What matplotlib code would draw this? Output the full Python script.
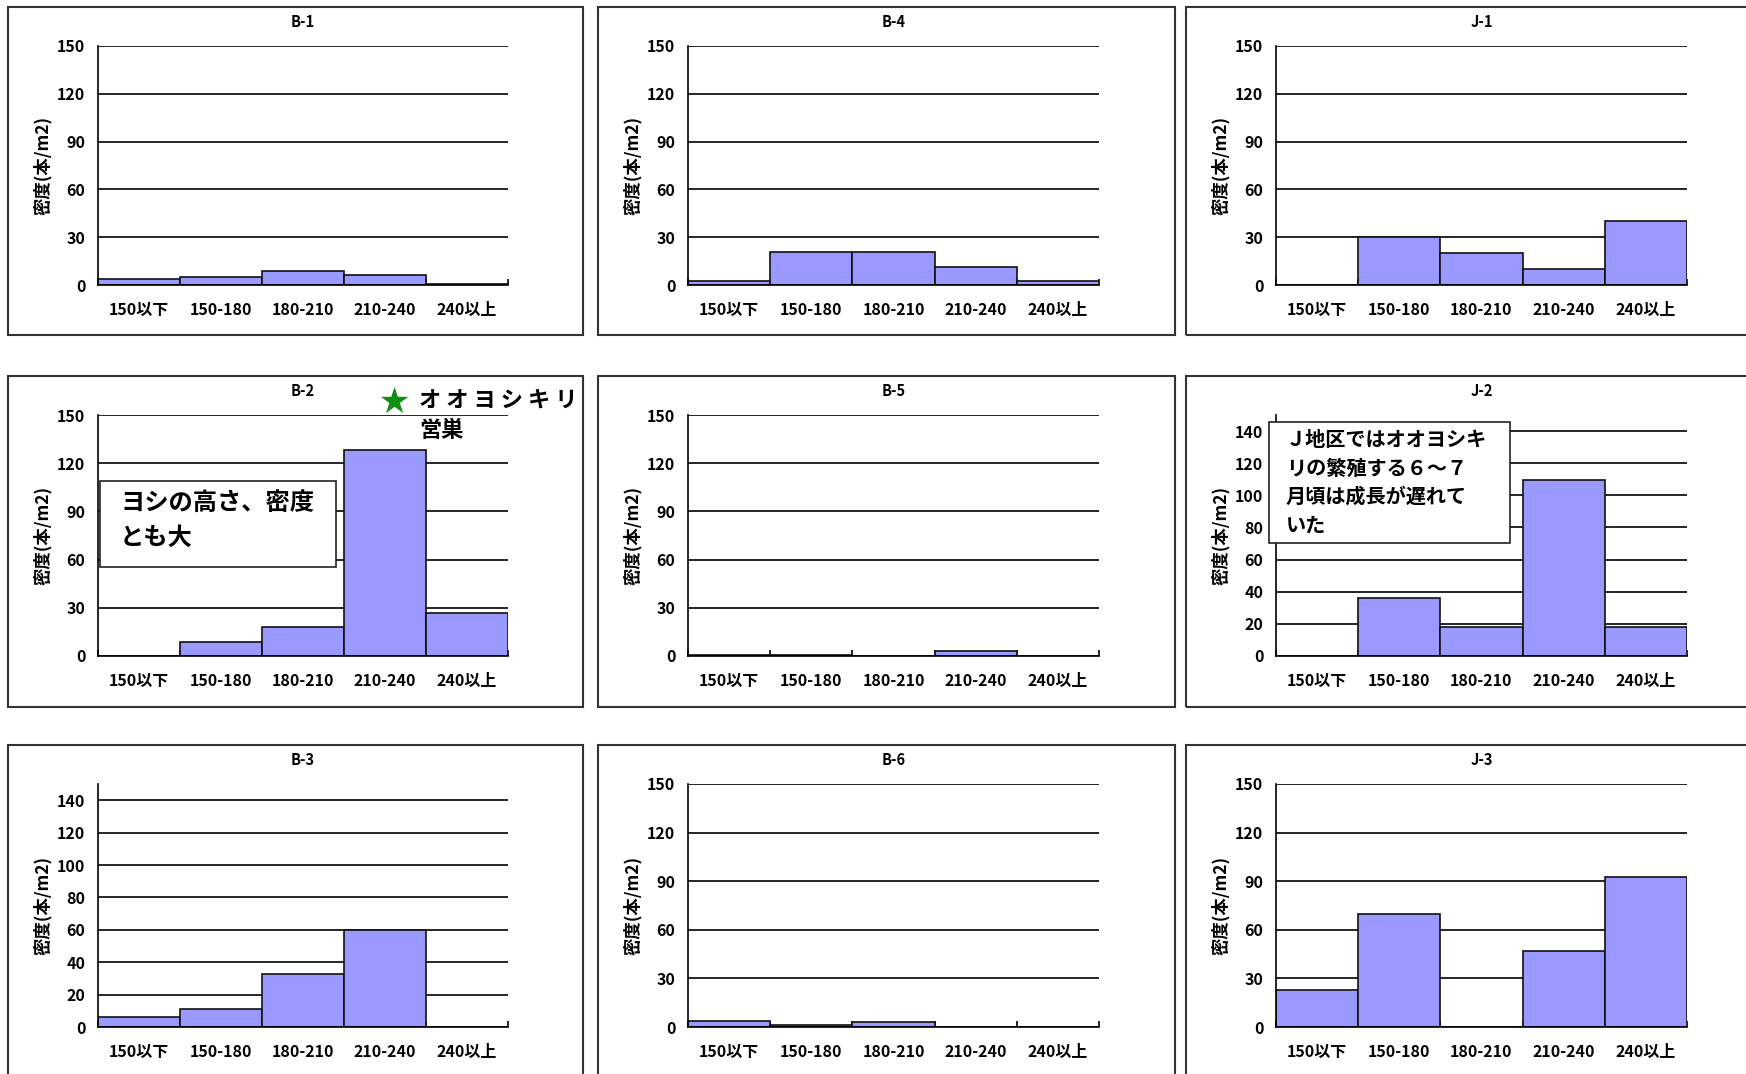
import matplotlib
matplotlib.use("Agg")
import matplotlib.pyplot as plt
import numpy as np
from matplotlib.patches import Rectangle

plt.rcParams['font.family'] = ['Noto Sans CJK JP', 'DejaVu Sans']
plt.rcParams['font.weight'] = 'bold'

# height classes (cm) and stem density per site (stems/m2)
categories = ['150以下', '150-180', '180-210', '210-240', '240以上']
b1 = [4, 5, 9, 6.5, 0.5]
b4 = [2.5, 20.5, 20.5, 11.5, 2.5]
j1 = [0, 30, 20, 10, 40]
b2 = [0, 9, 18, 128, 27]
b5 = [0.5, 0.5, 0, 3, 0]
j2 = [0, 36, 18, 109.5, 18]
b3 = [6, 11, 33, 60, 0]
b6 = [4, 1.5, 3, 0, 0]
j3 = [23, 70, 0, 47, 92.5]

site_names = [['B-1', 'B-4', 'J-1'],
              ['B-2', 'B-5', 'J-2'],
              ['B-3', 'B-6', 'J-3']]
site_values = [[b1, b4, j1], [b2, b5, j2], [b3, b6, j3]]
ticks_30 = [0, 30, 60, 90, 120, 150]
ticks_20 = [0, 20, 40, 60, 80, 100, 120, 140]
step20_sites = ['B-3', 'J-2']

W, H = 1746, 1074
fig = plt.figure(figsize=(W / 100, H / 100), dpi=100)


def fx(x):
    return x / W


def fy(y):
    return 1 - y / H


# pixel layout of plot areas and frames
col_x = [(98, 508), (688, 1099), (1276, 1687)]
row_y = [(46, 285), (415, 656), (784, 1027)]
box_x = [(8, 583), (598, 1175), (1186, 1770)]
box_y = [(7, 335), (376, 707), (745, 1090)]

for r in range(3):
    for c in range(3):
        bx0, bx1 = box_x[c]
        by0, by1 = box_y[r]
        fig.add_artist(Rectangle((fx(bx0), fy(by1)), (bx1 - bx0) / W, (by1 - by0) / H,
                                 transform=fig.transFigure, fill=False,
                                 edgecolor='#333333', linewidth=1.5, zorder=0))

        x0, x1 = col_x[c]
        y0, y1 = row_y[r]
        ax = fig.add_axes([fx(x0), fy(y1), (x1 - x0) / W, (y1 - y0) / H])
        ax.patch.set_alpha(0)
        name = site_names[r][c]
        vals = site_values[r][c]

        ax.bar(np.arange(5), vals, width=1.0, color='#9999ff',
               edgecolor='#111111', linewidth=1.2, zorder=2)
        ticks = ticks_20 if name in step20_sites else ticks_30
        for t in ticks[1:]:
            ax.axhline(t, color='black', linewidth=1.2, zorder=1)
        ax.set_xlim(-0.5, 4.5)
        ax.set_ylim(0, 150)
        ax.set_yticks(ticks)
        ax.set_xticks(np.arange(5), categories)
        ax.set_xticks(np.arange(-0.5, 5, 1), minor=True)
        ax.tick_params(axis='x', which='major', length=0, pad=12, labelsize=11.5)
        ax.tick_params(axis='x', which='minor', direction='in', length=4, width=1.2)
        ax.tick_params(axis='y', length=0, pad=9, labelsize=11.5)
        for s in ['top', 'right']:
            ax.spines[s].set_visible(False)
        for s in ['left', 'bottom']:
            ax.spines[s].set_linewidth(1.2)
            ax.spines[s].set_zorder(3)
        ax.set_title(name, fontsize=10.5, fontweight='bold', pad=14)
        ax.text(-0.135, 0.5, '密度(本/m2)', rotation=90, ha='center', va='center',
                transform=ax.transAxes, fontsize=12.5)

# B-2 notes
fig.text(fx(394), fy(402), '★', color='#109010', fontsize=21, ha='center', va='center')
fig.text(fx(419), fy(400), 'オ オ ヨ シ キ リ', fontsize=16, ha='left', va='center')
fig.text(fx(419), fy(431), '営巣', fontsize=16, ha='left', va='center')

fig.add_artist(Rectangle((fx(100), fy(567)), 236 / W, 86 / H, transform=fig.transFigure,
                         facecolor='white', edgecolor='#222222', linewidth=1.2, zorder=5))
fig.text(fx(120), fy(503), 'ヨシの高さ、密度', fontsize=17.5, ha='left', va='center', zorder=6)
fig.text(fx(120), fy(538), 'とも大', fontsize=17.5, ha='left', va='center', zorder=6)

# J-2 note
fig.add_artist(Rectangle((fx(1269), fy(543)), 241 / W, 121 / H, transform=fig.transFigure,
                         facecolor='white', edgecolor='#222222', linewidth=1.2, zorder=5))
j2_note = ['Ｊ地区ではオオヨシキ', 'リの繁殖する６～７', '月頃は成長が遅れて', 'いた']
for i, line in enumerate(j2_note):
    fig.text(fx(1286), fy(440 + 28.3 * i), line, fontsize=14.5, ha='left', va='center', zorder=6)

fig.savefig('out.png', dpi=100)
